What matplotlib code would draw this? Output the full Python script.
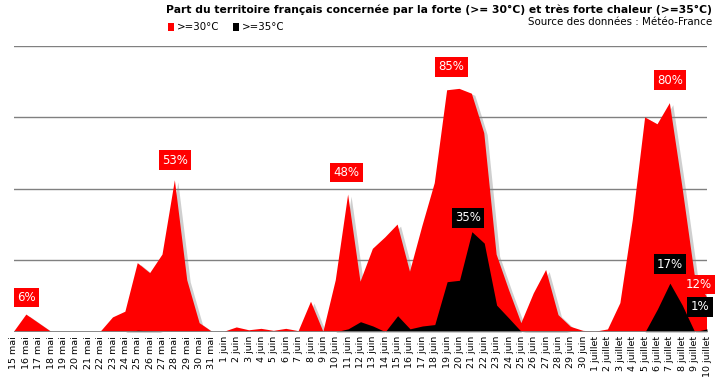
import matplotlib
matplotlib.use("Agg")
import matplotlib.pyplot as plt
import matplotlib.patheffects as pe
import numpy as np

# ---- data ----
may_days = list(range(15, 32))
june_days = list(range(1, 31))
july_days = list(range(1, 11))
tick_labels = ([f"{d} mai" for d in may_days] +
               [f"{d} juin" for d in june_days] +
               [f"{d} juillet" for d in july_days])

hot30 = [0, 6, 3, 0, 0, 0, 0, 0, 5, 7, 24, 20.5, 27, 53, 18, 3, 0,
         0, 1.5, 0.5, 1, 0.3, 1, 0.2, 10.5, 0, 18, 48, 17.5, 29, 33, 37.5, 21, 37, 52,
         84.5, 85, 83.3, 69.5, 27, 14.6, 3, 13.4, 21.6, 5.8, 1.7, 0.3,
         0, 0.8, 10, 39, 75, 72.6, 80, 51, 20, 12]
hot35 = [0, 0, 0, 0, 0, 0, 0, 0, 0, 0, 0.5, 0.3, 0, 0, 0, 0, 0,
         0, 0, 0, 0, 0, 0, 0, 0, 0, 0, 1, 3.5, 2, 0, 5.6, 1, 2, 2.5,
         17.5, 18, 35, 31, 9.3, 4.7, 0, 0.2, 0.3, 0.2, 0, 0,
         0, 0, 0, 0, 0, 8, 17, 9.3, 0, 1]

# labelled points: (index, x-offset px, y-offset px)
red_labels = [(1, 0, 17), (13, 0, 20), (27, -1.5, 22), (36, -8, 22), (53, 0, 23), (56, -8, 13)]
black_labels = [(37, -4, 14), (53, 0, 19), (56, -7, 22)]

title = "Part du territoire français concernée par la forte (>= 30°C) et très forte chaleur (>=35°C)"
source = "Source des données : Météo-France"

# ---- figure ----
fig = plt.figure(figsize=(7.15, 3.87), dpi=100)
W, H = 715, 387
ax = fig.add_axes([14 / W, 1 - 331.7 / H, (707 - 14) / W, (331.7 - 46) / H])

x = np.arange(len(hot30))
ax.set_xlim(0, len(hot30) - 1)
ax.set_ylim(0, 100)

for yv in [25, 50, 75, 100]:
    ax.axhline(yv, color="#808080", lw=1.0, zorder=1)

ax.fill_between(x, 0, hot30, color="#FF0000", lw=0, zorder=2,
                path_effects=[pe.SimplePatchShadow(offset=(2.5, -1.5), shadow_rgbFace="#888888", alpha=0.4),
                              pe.Normal()])
ax.fill_between(x, 0, hot35, color="#000000", lw=0, zorder=3)
ax.axhline(0, color="#808080", lw=1.3, zorder=4)

for sp in ax.spines.values():
    sp.set_visible(False)
ax.set_yticks([])
ax.set_xticks(x)
ax.set_xticklabels(tick_labels, rotation=90, fontsize=6.8, va="top", ha="center")
ax.tick_params(axis="x", length=0, pad=3)

px2pt = 72 / 100
def put_label(i, vals, dx, dy, face):
    v = vals[i]
    ax.annotate(f"{round(v):d}%", xy=(x[i], v), xytext=(dx * px2pt, dy * px2pt),
                textcoords="offset points", ha="center", va="center",
                color="white", fontsize=8.5, zorder=6, annotation_clip=False,
                bbox=dict(boxstyle="square,pad=0.28", fc=face, ec="none"))

for i, dx, dy in red_labels:
    put_label(i, hot30, dx, dy, "#FF0000")
for i, dx, dy in black_labels:
    put_label(i, hot35, dx, dy, "#000000")

fig.text(712 / W, 1 - 10 / H, title, ha="right", va="center", fontsize=7.75, fontweight="bold")
fig.text(712 / W, 1 - 22 / H, source, ha="right", va="center", fontsize=7.4)

# legend
fig.patches.append(plt.Rectangle((168 / W, 1 - 31 / H), 6 / W, 8 / H, transform=fig.transFigure,
                                 fc="#FF0000", ec="none"))
fig.text(177 / W, 1 - 27 / H, ">=30°C", ha="left", va="center", fontsize=7.4)
fig.patches.append(plt.Rectangle((233 / W, 1 - 31 / H), 6 / W, 8 / H, transform=fig.transFigure,
                                 fc="#000000", ec="none"))
fig.text(242 / W, 1 - 27 / H, ">=35°C", ha="left", va="center", fontsize=7.4)

fig.savefig("out.png", dpi=100)
